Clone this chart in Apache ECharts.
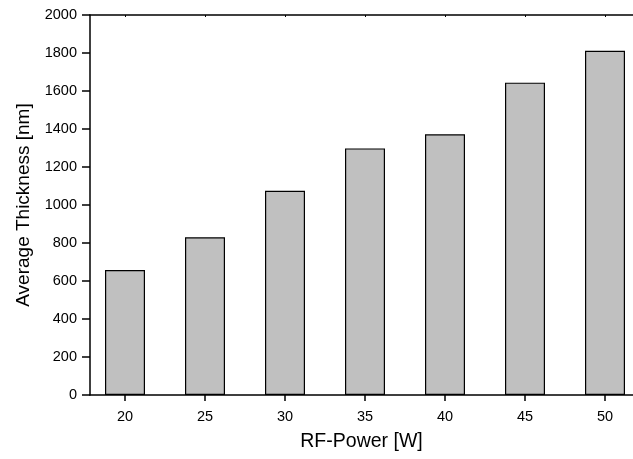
<!DOCTYPE html>
<html>
<head>
<meta charset="utf-8">
<script src="https://cdn.jsdelivr.net/npm/echarts@6/dist/echarts.min.js"></script>
<style>
    html, body { margin: 0; padding: 0; background: #fff; }
    #chart { width: 633px; height: 459px; }
</style>
</head>
<body>
<div id="chart"></div>
<script>
const power = [20, 25, 30, 35, 40, 45, 50]
const thickness = [658, 830, 1075, 1298, 1372, 1644, 1812]
const yTicks = [0, 200, 400, 600, 800, 1000, 1200, 1400, 1600, 1800, 2000]

const chart = echarts.init(document.getElementById('chart'))
const font = 'Arial, "Liberation Sans", sans-serif'

chart.setOption({
    animation: false,
    grid: { left: 90, right: 0, top: 15, bottom: 64 },
    xAxis: [
        {
            type: 'value',
            min: 17.8125,
            max: 51.75,
            name: 'RF-Power [W]',
            nameLocation: 'middle',
            nameGap: 37,
            nameTextStyle: { fontSize: 19.5, color: '#000', fontFamily: font },
            axisLine: { onZero: false, lineStyle: { color: '#000', width: 1.5 } },
            axisTick: { customValues: power, length: 6, lineStyle: { color: '#000', width: 1.5 } },
            axisLabel: { customValues: power, fontSize: 14.5, color: '#000', fontFamily: font, margin: 14, formatter: v => String(v) },
            splitLine: { show: false }
        },
        {
            type: 'value',
            position: 'top',
            min: 17.8125,
            max: 51.75,
            axisLine: { onZero: false, lineStyle: { color: '#000', width: 1.5 } },
            axisTick: { customValues: power, inside: true, length: 2, lineStyle: { color: '#000' } },
            axisLabel: { show: false },
            splitLine: { show: false }
        }
    ],
    yAxis: {
        type: 'value',
        min: 0,
        max: 2000,
        interval: 200,
        name: 'Average Thickness [nm]',
        nameLocation: 'middle',
        nameGap: 57,
        nameTextStyle: { fontSize: 19, color: '#000', fontFamily: font },
        axisLine: { show: true, lineStyle: { color: '#000', width: 1.5 } },
        axisTick: { customValues: yTicks, length: 8, lineStyle: { color: '#000', width: 1.5 } },
        axisLabel: { customValues: yTicks, fontSize: 14.5, color: '#000', fontFamily: font, margin: 13, formatter: v => String(v) },
        splitLine: { show: false }
    },
    series: [{
        type: 'bar',
        xAxisIndex: 0,
        barWidth: 40,
        data: power.map((p, i) => [p, thickness[i]]),
        itemStyle: { color: '#c0c0c0', borderColor: '#000', borderWidth: 1.2 }
    }]
})
</script>
</body>
</html>
